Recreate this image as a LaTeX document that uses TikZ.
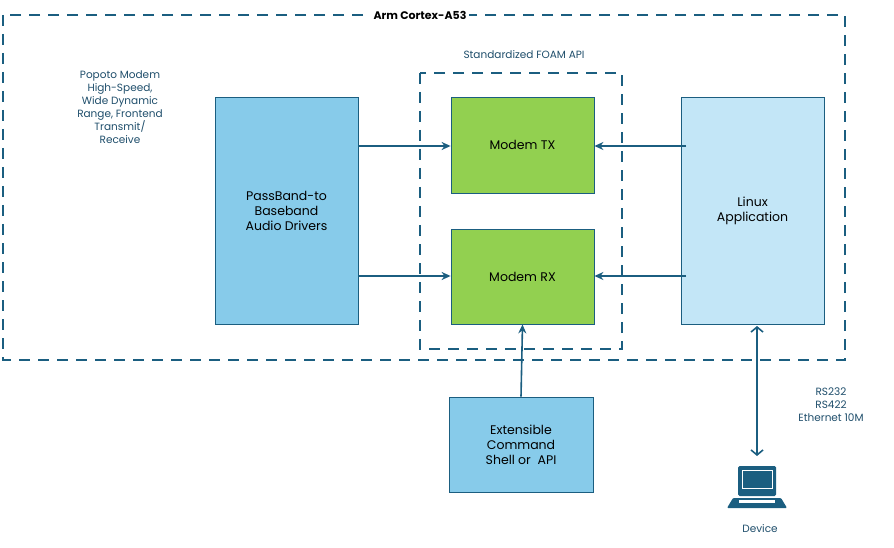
\documentclass[tikz,border=0pt]{standalone}
\usepackage{fontspec}
\setmainfont{Poppins}
\usetikzlibrary{arrows.meta}
\definecolor{ln}{HTML}{1B5E80}
\definecolor{tx}{HTML}{1F4E6B}
\definecolor{bl}{HTML}{87CBEA}
\definecolor{lb}{HTML}{C3E6F7}
\definecolor{gr}{HTML}{92D050}
\begin{document}
\begin{tikzpicture}[x=1pt,y=-1pt,
  box/.style={draw=ln,line width=0.8pt,text=black,align=center,font=\fontsize{12.5}{15}\selectfont},
  dsh/.style={draw=ln,line width=1.6pt,dash pattern=on 11pt off 8pt},
  arr/.style={draw=ln,line width=1.6pt,-{Stealth[length=9pt,width=8pt]}},
  lbl/.style={text=tx,align=center,font=\fontsize{10.5}{13}\selectfont}]
\useasboundingbox (0,0) rectangle (894,548);
\draw[dsh] (3,15) rectangle (845,360);
\node[fill=white,font=\bfseries\fontsize{11}{13}\selectfont,inner sep=3pt] (title) at (420,15) {Arm Cortex-A53};
\draw[dsh] (420,73) rectangle (622,349);
\node[lbl] (foam) at (524,55) {Standardized FOAM API};
\node[lbl] (popoto) at (120,107) {Popoto Modem\\High-Speed,\\Wide Dynamic\\Range, Frontend\\Transmit/\\Receive};
\node[box,fill=bl,minimum width=143pt,minimum height=227pt] (pb) at (286.5,210.5) {PassBand-to\\Baseband\\Audio Drivers};
\node[box,fill=gr,minimum width=143pt,minimum height=96pt] (mtx) at (522.5,145) {Modem TX};
\node[box,fill=gr,minimum width=143pt,minimum height=95pt] (mrx) at (522.5,276.5) {Modem RX};
\node[box,fill=lb,minimum width=143pt,minimum height=227pt] (lin) at (752.5,210.5) {Linux\\Application};
\node[box,fill=bl,minimum width=144pt,minimum height=95pt] (ext) at (521,444.5) {Extensible\\Command\\Shell or\ \ API};
\draw[arr] (pb.east |- 0,146) -- (mtx.west |- 0,146);
\draw[arr] (pb.east |- 0,276) -- (mrx.west |- 0,276);
\draw[arr] (686,146) -- (mtx.east |- 0,146);
\draw[arr] (686,276) -- (mrx.east |- 0,276);
\draw[arr] (ext.north) -- (mrx.south);
% device icon
\coordinate (dev) at (757,456);
\fill[ln,rounded corners=1.5pt] (738,466) rectangle (776,496);
\draw[white,line width=0.8pt] (742,470) rectangle (772,488);
\fill[ln,rounded corners=1pt] (733,498) -- (781,498) -- (787,508) -- (727,508) -- cycle;
\fill[white] (739,500) rectangle (775,502.5);
\node[lbl] (devl) at (760,529) {Device};
\draw[draw=ln,line width=1.6pt,{Straight Barb[length=5pt,width=12pt]}-{Straight Barb[length=5pt,width=12pt]}] (757,326) -- (dev);
\node[lbl] (rs) at (831,405) {RS232\\RS422\\Ethernet 10M};
\end{tikzpicture}
\end{document}
